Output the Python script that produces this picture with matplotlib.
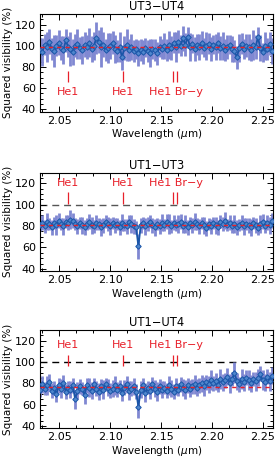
import numpy as np
import matplotlib
matplotlib.use("Agg")
import matplotlib.pyplot as plt
from matplotlib.ticker import MultipleLocator, AutoMinorLocator

# Spectral channels (regular grid of the instrument)
wl_start, wl_end = 2.031, 2.259

titles = ["UT3\u2212UT4", "UT1\u2212UT3", "UT1\u2212UT4"]

# UT3-UT4 squared visibility (%) and errors
v2_34 = [96, 94, 101, 99, 104, 97, 95, 100, 103, 98,
         96, 105, 99, 97, 94, 100, 102, 98, 96, 101,
         99, 103, 97, 100, 107, 104, 99, 101, 96, 98,
         100, 103, 97, 95, 99, 89, 98, 101, 96, 99,
         95, 97, 93, 96, 94, 98, 95, 93, 97, 96,
         93, 99, 97, 100, 96, 101, 98, 103, 99, 104,
         100, 107, 101, 108, 99, 102, 97, 101, 99, 103,
         98, 100, 102, 97, 101, 99, 103, 98, 100, 96,
         99, 101, 97, 95, 89, 98, 102, 97, 100, 99,
         96, 101, 99, 108, 98, 94, 100, 97, 102, 95]
err_34 = [11, 13, 10, 14, 12, 10, 15, 10, 12, 11,
          13, 11, 10, 16, 12, 11, 14, 10, 13, 12,
          11, 14, 12, 13, 15, 11, 19, 12, 10, 14,
          12, 11, 13, 10, 14, 12, 11, 15, 10, 12,
          10, 9, 12, 10, 11, 9, 10, 13, 9, 10,
          11, 10, 9, 12, 10, 13, 11, 10, 14, 11,
          10, 12, 11, 10, 13, 9, 11, 10, 12, 11,
          9, 13, 10, 11, 9, 12, 10, 11, 13, 10,
          11, 9, 12, 10, 11, 13, 10, 9, 11, 12,
          10, 14, 11, 10, 12, 9, 13, 10, 11, 12]

# UT1-UT3
v2_13 = [81, 83, 80, 84, 82, 79, 83, 81, 85, 82,
         80, 84, 83, 86, 85, 82, 80, 83, 81, 79,
         82, 84, 81, 80, 83, 82, 79, 81, 84, 82,
         80, 83, 81, 82, 79, 83, 81, 80, 84, 82,
         80, 79, 61, 81, 83, 80, 82, 84, 81, 79,
         82, 80, 83, 81, 84, 82, 80, 83, 81, 82,
         84, 80, 82, 79, 83, 81, 84, 82, 80, 83,
         81, 78, 82, 80, 83, 81, 79, 84, 82, 85,
         81, 83, 80, 82, 79, 81, 83, 80, 82, 81,
         79, 83, 81, 78, 82, 84, 80, 83, 81, 85]
err_13 = [6, 7, 6, 8, 6, 7, 6, 9, 7, 6,
          8, 6, 7, 9, 7, 6, 7, 6, 8, 7,
          6, 7, 8, 6, 7, 6, 8, 7, 6, 7,
          8, 6, 7, 6, 7, 8, 6, 7, 6, 8,
          7, 6, 12, 7, 6, 8, 7, 6, 7, 8,
          6, 7, 8, 6, 7, 9, 6, 7, 6, 8,
          7, 6, 8, 7, 6, 7, 8, 6, 7, 6,
          8, 7, 6, 7, 6, 8, 7, 6, 7, 8,
          6, 7, 6, 8, 7, 6, 7, 8, 6, 7,
          8, 6, 7, 6, 8, 7, 6, 7, 8, 7]

# UT1-UT4
v2_14 = [74, 79, 75, 78, 81, 73, 76, 70, 78, 75,
         80, 72, 76, 74, 78, 65, 73, 77, 75, 69,
         78, 76, 73, 79, 75, 72, 77, 74, 79, 76,
         73, 75, 78, 74, 77, 71, 76, 79, 73, 75,
         77, 72, 58, 74, 78, 71, 76, 73, 79, 75,
         72, 77, 74, 76, 73, 78, 75, 72, 77, 74,
         79, 76, 74, 78, 75, 77, 79, 76, 78, 80,
         77, 81, 79, 83, 80, 82, 78, 84, 81, 83,
         86, 80, 84, 90, 82, 79, 84, 81, 85, 83,
         80, 84, 82, 85, 89, 83, 81, 86, 82, 87]
err_14 = [7, 8, 6, 9, 8, 7, 6, 8, 7, 9,
          8, 7, 6, 8, 7, 9, 8, 7, 6, 8,
          7, 9, 8, 6, 7, 8, 7, 9, 6, 8,
          7, 8, 9, 7, 6, 8, 7, 8, 9, 7,
          8, 7, 11, 8, 7, 9, 6, 8, 7, 8,
          9, 7, 8, 6, 7, 9, 8, 7, 8, 6,
          7, 8, 9, 7, 8, 7, 9, 8, 7, 8,
          9, 7, 8, 9, 7, 8, 6, 9, 8, 7,
          8, 9, 7, 10, 8, 7, 9, 8, 7, 9,
          8, 7, 9, 8, 7, 9, 8, 7, 9, 8]

series = [(v2_34, err_34), (v2_13, err_13), (v2_14, err_14)]
mean_levels = [98.5, 81.2, 76.3]

# Spectral line markers
line_wl = [2.0587, 2.1126, 2.1617, 2.1661]
line_txt = ["He1", "He1", "He1 Br\u2212y"]
line_txt_wl = [2.0587, 2.1126, 2.1645]

# (mark bottom, mark top, text y) per panel
mark_y = [(66, 76, 56), (101, 112, 120), (96.5, 107, 115.5)]
ref100_color = [None, "#555555", "black"]

# axes boxes in pixels: (top, bottom)
W, H = 276, 459
left_px, right_px = 40, 273
boxes = [(14, 111.5), (172.7, 271), (330, 428)]

plt.rcParams["font.family"] = ["DejaVu Sans"]
fig = plt.figure(figsize=(W / 100, H / 100), dpi=100)

err_col = "#8088d2"
pt_col = "#1a55a8"

for k in range(3):
    top, bot = boxes[k]
    ax = fig.add_axes([left_px / W, 1 - bot / H, (right_px - left_px) / W, (bot - top) / H])
    v2, err = series[k]
    wl = np.linspace(wl_start, wl_end, len(v2))

    ax.errorbar(wl, v2, yerr=err, fmt="none", ecolor=err_col, elinewidth=2.0, zorder=2)
    ax.plot(wl, v2, color=pt_col, lw=1.3, zorder=3)
    ax.plot(wl, v2, ls="none", marker="D", ms=2.8, mfc="#4f86cc", mec=pt_col, mew=0.7, zorder=4)

    ax.axhline(mean_levels[k], color="#e8202a", ls=(0, (3, 3)), lw=1.0, zorder=5)
    if ref100_color[k]:
        ax.axhline(100, color=ref100_color[k], ls=(0, (5, 3.5)), lw=1.0, zorder=1)

    y0, y1, ty = mark_y[k]
    ax.vlines(line_wl, y0, y1, color="#e8202a", lw=0.9, zorder=6)
    for t, x in zip(line_txt, line_txt_wl):
        ax.text(x, ty, t, color="#e8202a", fontsize=8, ha="center", va="center", zorder=6)

    ax.set_xlim(2.031, 2.260)
    ax.set_ylim(38, 130)
    ax.xaxis.set_major_locator(MultipleLocator(0.05))
    ax.xaxis.set_minor_locator(AutoMinorLocator(3))
    ax.yaxis.set_major_locator(MultipleLocator(20))
    ax.yaxis.set_minor_locator(MultipleLocator(5))
    ax.tick_params(which="both", direction="in", top=True, right=True, labelsize=8, width=0.7)
    ax.tick_params(which="major", length=4, pad=3)
    ax.tick_params(which="minor", length=2)
    for s in ax.spines.values():
        s.set_linewidth(0.8)

    ax.set_title(titles[k], fontsize=8.3, pad=3)
    ax.set_xlabel("Wavelength ($\\mu$m)", fontsize=7.5, labelpad=1)
    ax.set_ylabel("Squared visibility (%)", fontsize=7.5, labelpad=1)

fig.savefig("out.png", dpi=100)
